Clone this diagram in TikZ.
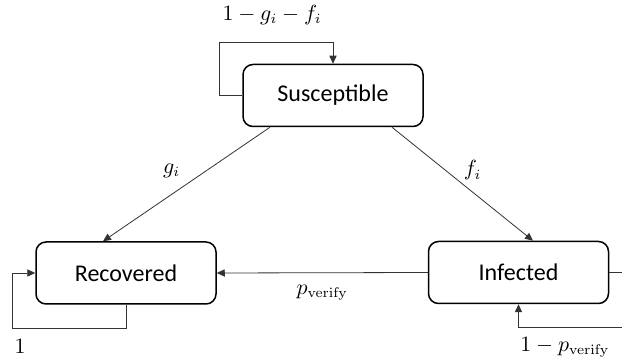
\documentclass[tikz,border=0pt]{standalone}
\usepackage[no-math]{fontspec}
\setmainfont{Carlito}
\usepackage{amsmath}
\usetikzlibrary{arrows.meta}

\begin{document}
\begin{tikzpicture}[x=0.5pt, y=-0.5pt, >={Triangle[length=4pt,width=3.6pt]},
  st/.style={draw, line width=0.75pt, rounded corners=5pt, minimum width=90pt, minimum height=31pt, align=center, font=\fontsize{12}{14}\selectfont},
  tr/.style={->, draw=black!80, line width=0.4pt},
  lbl/.style={font=\fontsize{10.5}{12}\selectfont, inner sep=1pt}]
\clip (0,0) rectangle (622,363);
\node[st] (sus) at (333,95.5) {Susceptible};
\node[st] (rec) at (126,273) {Recovered};
\node[st] (inf) at (518.5,272.5) {Infected};
% transitions out of the susceptible state
\draw[tr] ([xshift=-31.5pt]sus.south) -- ([xshift=-11.5pt]rec.north) node[lbl, pos=0.38, left=12pt]{$g_i$};
\draw[tr] ([xshift=29.5pt]sus.south) -- ([xshift=7.25pt]inf.north) node[lbl, pos=0.38, right=8pt]{$f_i$};
\draw[tr] (inf.west) -- (rec.east) node[lbl, midway, below=5pt]{$p_{\mathrm{verify}}$};
% self loops
\draw[tr] (sus.west) -- ++(-23,0) -- ++(0,-53.5) -| (sus.north);
\node[lbl] (lsus) at (272,15) {$1-g_i-f_i$};
\draw[tr] (rec.south) -- ++(0,24) -| ([xshift=-11.5pt]rec.west) -- (rec.west);
\node[lbl] (lrec) at (20,346) {$1$};
\draw[tr] (inf.east) -- ++(30,0) -- ++(0,55) -| (inf.south);
\node[lbl] (linf) at (565,347) {$1-p_{\mathrm{verify}}$};
\end{tikzpicture}
\end{document}
